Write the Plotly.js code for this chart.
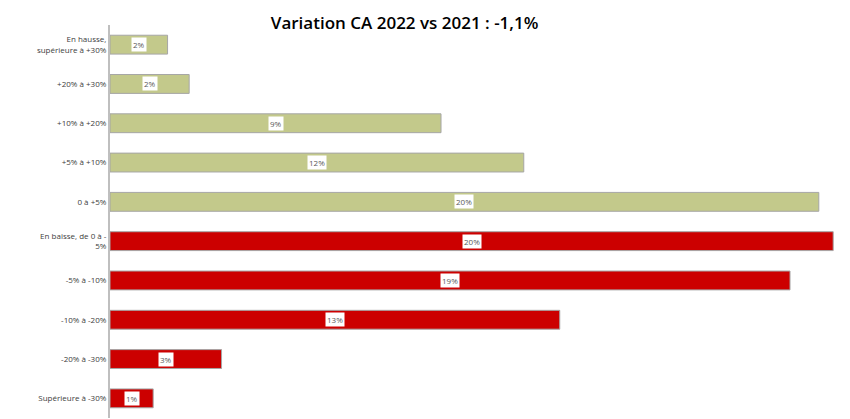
<!DOCTYPE html>
<html>
<head>
<meta charset="utf-8">
<script src="https://cdn.plot.ly/plotly-3.0.1.min.js"></script>
<style>
  html, body { margin: 0; padding: 0; background: #fff; }
  #plot { width: 850px; height: 419px; }
</style>
</head>
<body>
<div id="plot"></div>
<script>
// share of points of sale per variation band (in %), top to bottom
const CATEGORIES = [
  'En hausse,<br>supérieure à +30%',
  '+20% à +30%',
  '+10% à +20%',
  '+5% à +10%',
  '0 à +5%',
  'En baisse, de 0 à -<br>5%',
  '-5% à -10%',
  '-10% à -20%',
  '-20% à -30%',
  'Supérieure à -30%'
];
const SHARES = [1.6, 2.2, 9.2, 11.5, 19.7, 20.1, 18.9, 12.5, 3.1, 1.2];
const UP_COLOR = '#c3c98b';
const DOWN_COLOR = '#cc0000';

function barColors() {
  // first five bands are growth, the rest decline
  return SHARES.map((v, i) => i < 5 ? UP_COLOR : DOWN_COLOR);
}

function makeLabels() {
  return SHARES.map((v, i) => ({
    x: v / 2, y: CATEGORIES[i], xref: 'x', yref: 'y',
    text: Math.round(v) + '%',
    showarrow: false,
    bgcolor: '#ffffff',
    borderpad: 1,
    font: {family: 'Open Sans, sans-serif', size: 8, color: '#595959'}
  }));
}

const trace = {
  type: 'bar',
  orientation: 'h',
  x: SHARES,
  y: CATEGORIES,
  marker: {color: barColors(), line: {color: '#a6a6a6', width: 1}},
  hoverinfo: 'skip'
};

const layout = {
  width: 850, height: 419,
  margin: {t: 25, b: 1, l: 110, r: 15},
  paper_bgcolor: '#ffffff',
  plot_bgcolor: '#ffffff',
  bargap: 0.52,
  showlegend: false,
  title: {
    text: 'Variation CA 2022 vs 2021 : -1,1%',
    x: 0.476, xanchor: 'center', y: 0.945, yanchor: 'middle',
    font: {family: 'Open Sans, sans-serif', size: 17, color: '#000000', weight: 600}
  },
  xaxis: {
    range: [0, 20.15], showgrid: false, zeroline: false,
    showticklabels: false, showline: false, fixedrange: true
  },
  yaxis: {
    autorange: 'reversed', showgrid: false, zeroline: false,
    showline: true, linecolor: '#bfbfbf', linewidth: 2,
    ticks: '', ticklen: 0,
    tickfont: {family: 'Open Sans, sans-serif', size: 8, color: '#404040'},
    fixedrange: true
  },
  annotations: makeLabels()
};

Plotly.newPlot('plot', [trace], layout, {displayModeBar: false, staticPlot: true});
</script>
</body>
</html>
